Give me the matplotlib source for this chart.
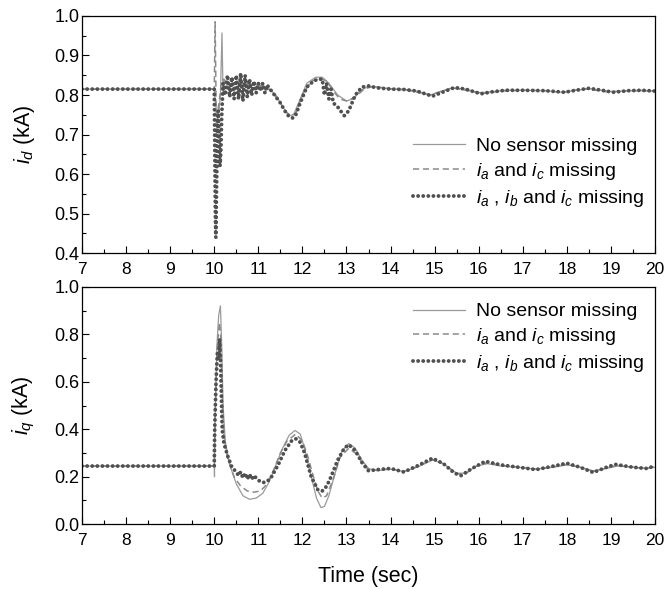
import numpy as np
import matplotlib.pyplot as plt
from matplotlib.ticker import MultipleLocator

plt.rcParams['font.family'] = ['Liberation Sans', 'DejaVu Sans']
plt.rcParams['mathtext.fontset'] = 'custom'
plt.rcParams['mathtext.rm'] = 'Liberation Sans'
plt.rcParams['mathtext.it'] = 'Liberation Sans:italic'

# i_d (kA) - top panel
t_d_none = [7.0, 10.0, 10.03, 10.06, 10.1, 10.14, 10.175, 10.2, 10.23, 10.3, 10.4, 10.6,
            10.8, 11.0, 11.2, 11.4, 11.55, 11.7, 11.8, 11.95, 12.1, 12.3, 12.45, 12.6,
            12.8, 13.0, 13.15, 13.3, 13.5, 13.7, 14.0, 14.3, 14.6, 14.9, 15.1, 15.4,
            15.7, 16.0, 16.3, 16.6, 17.0, 17.5, 17.9, 18.2, 18.5, 18.8, 19.05, 19.4,
            19.7, 20.0]
id_none = [0.815, 0.815, 0.78, 0.745, 0.75, 0.80, 0.957, 0.80, 0.84, 0.825, 0.83, 0.832,
           0.828, 0.825, 0.82, 0.80, 0.77, 0.748, 0.75, 0.79, 0.83, 0.845, 0.845, 0.83,
           0.80, 0.785, 0.79, 0.81, 0.822, 0.82, 0.815, 0.815, 0.81, 0.80, 0.808, 0.818,
           0.815, 0.806, 0.808, 0.812, 0.812, 0.811, 0.807, 0.812, 0.816, 0.812, 0.808,
           0.811, 0.812, 0.81]

t_d_ac = [7.0, 10.0, 10.02, 10.05, 10.08, 10.12, 10.16, 10.2, 10.3, 10.5, 10.7, 10.9,
          11.1, 11.3, 11.5, 11.65, 11.75, 11.85, 12.0, 12.2, 12.4, 12.55, 12.7, 12.85,
          13.0, 13.2, 13.4, 13.6, 14.0, 14.4, 14.9, 15.4, 15.9, 16.1, 16.5, 17.0, 17.5,
          17.9, 18.4, 18.9, 19.4, 20.0]
id_ac = [0.815, 0.815, 0.985, 0.70, 0.76, 0.79, 0.83, 0.84, 0.82, 0.83, 0.826, 0.824,
         0.822, 0.81, 0.78, 0.755, 0.748, 0.755, 0.80, 0.835, 0.842, 0.835, 0.81, 0.79,
         0.785, 0.795, 0.815, 0.822, 0.816, 0.812, 0.80, 0.818, 0.808, 0.804, 0.81,
         0.812, 0.811, 0.807, 0.816, 0.808, 0.811, 0.81]

t_d_abc = [7.0, 10.0, 10.01, 10.025, 10.035, 10.05, 10.07, 10.09, 10.11, 10.13, 10.15,
           10.17, 10.2, 10.25, 10.3, 10.35, 10.4, 10.45, 10.5, 10.55, 10.6, 10.65, 10.7,
           10.75, 10.8, 10.85, 10.9, 10.95, 11.0, 11.05, 11.1, 11.15, 11.2, 11.3, 11.4,
           11.5, 11.6, 11.7, 11.78, 11.85, 11.95, 12.1, 12.25, 12.35, 12.45, 12.5, 12.55,
           12.6, 12.65, 12.7, 12.8, 12.9, 12.95, 13.05, 13.2, 13.35, 13.5, 13.7, 14.0,
           14.3, 14.6, 14.95, 15.2, 15.45, 15.7, 16.05, 16.3, 16.6, 17.0, 17.5, 17.95,
           18.2, 18.5, 18.8, 19.05, 19.4, 19.7, 20.0]
id_abc = [0.815, 0.815, 0.70, 0.50, 0.44, 0.55, 0.70, 0.76, 0.68, 0.62, 0.66, 0.75, 0.83,
          0.80, 0.85, 0.795, 0.845, 0.79, 0.85, 0.79, 0.855, 0.785, 0.85, 0.795, 0.84,
          0.80, 0.835, 0.805, 0.83, 0.81, 0.83, 0.805, 0.825, 0.81, 0.795, 0.78, 0.76,
          0.745, 0.742, 0.75, 0.78, 0.82, 0.835, 0.84, 0.84, 0.80, 0.83, 0.79, 0.815,
          0.78, 0.77, 0.755, 0.748, 0.76, 0.80, 0.82, 0.823, 0.818, 0.815, 0.814, 0.81,
          0.797, 0.808, 0.819, 0.815, 0.803, 0.808, 0.812, 0.812, 0.811, 0.807, 0.812,
          0.817, 0.812, 0.807, 0.811, 0.812, 0.81]

# i_q (kA) - bottom panel
t_q_none = [7.0, 10.0, 10.005, 10.02, 10.06, 10.1, 10.14, 10.17, 10.2, 10.25, 10.35, 10.5,
            10.65, 10.8, 10.95, 11.1, 11.25, 11.4, 11.55, 11.7, 11.83, 11.95, 12.05, 12.2,
            12.32, 12.42, 12.5, 12.6, 12.75, 12.9, 13.05, 13.2, 13.35, 13.5, 13.7, 14.0,
            14.3, 14.6, 14.95, 15.2, 15.5, 15.7, 15.95, 16.2, 16.5, 16.9, 17.3, 17.7, 18.0,
            18.3, 18.6, 18.9, 19.15, 19.5, 19.8, 20.0]
iq_none = [0.245, 0.245, 0.20, 0.45, 0.75, 0.88, 0.92, 0.75, 0.50, 0.35, 0.25, 0.17,
           0.12, 0.105, 0.11, 0.13, 0.18, 0.25, 0.32, 0.375, 0.395, 0.38, 0.32, 0.20,
           0.11, 0.07, 0.075, 0.12, 0.22, 0.31, 0.34, 0.32, 0.27, 0.235, 0.225, 0.232,
           0.222, 0.24, 0.27, 0.255, 0.215, 0.215, 0.245, 0.255, 0.245, 0.24, 0.232, 0.24,
           0.25, 0.24, 0.225, 0.235, 0.245, 0.24, 0.235, 0.24]

t_q_ac = [7.0, 10.0, 10.02, 10.06, 10.1, 10.12, 10.15, 10.18, 10.22, 10.3, 10.45, 10.6,
          10.75, 10.9, 11.05, 11.2, 11.35, 11.5, 11.65, 11.85, 12.0, 12.1, 12.25, 12.35,
          12.45, 12.55, 12.7, 12.85, 13.05, 13.2, 13.35, 13.5, 13.7, 14.0, 14.3, 14.6,
          14.95, 15.2, 15.5, 15.7, 15.95, 16.2, 16.5, 16.9, 17.3, 17.7, 18.0, 18.3, 18.6,
          18.9, 19.15, 19.5, 19.8, 20.0]
iq_ac = [0.245, 0.245, 0.45, 0.72, 0.82, 0.85, 0.78, 0.55, 0.37, 0.28, 0.20, 0.16,
         0.14, 0.135, 0.14, 0.17, 0.23, 0.30, 0.35, 0.38, 0.35, 0.30, 0.20, 0.14,
         0.11, 0.12, 0.19, 0.28, 0.32, 0.30, 0.26, 0.23, 0.228, 0.234, 0.222, 0.242,
         0.272, 0.255, 0.212, 0.212, 0.245, 0.26, 0.248, 0.24, 0.232, 0.242, 0.252, 0.24,
         0.222, 0.237, 0.248, 0.24, 0.235, 0.242]

t_q_abc = [7.0, 10.0, 10.01, 10.04, 10.07, 10.1, 10.12, 10.14, 10.16, 10.18, 10.22, 10.3,
           10.4, 10.5, 10.55, 10.6, 10.65, 10.7, 10.75, 10.8, 10.85, 10.9, 11.0, 11.1,
           11.2, 11.3, 11.45, 11.6, 11.75, 11.85, 11.95, 12.05, 12.2, 12.35, 12.45, 12.55,
           12.65, 12.8, 12.95, 13.05, 13.2, 13.35, 13.5, 13.7, 14.0, 14.3, 14.6, 14.95,
           15.2, 15.45, 15.6, 15.85, 16.15, 16.5, 16.9, 17.3, 17.7, 18.0, 18.3, 18.6, 18.9,
           19.1, 19.5, 19.8, 20.0]
iq_abc = [0.245, 0.245, 0.40, 0.60, 0.72, 0.70, 0.78, 0.70, 0.55, 0.40, 0.34, 0.29,
          0.24, 0.22, 0.205, 0.22, 0.195, 0.215, 0.19, 0.21, 0.19, 0.205, 0.185, 0.175,
          0.18, 0.20, 0.25, 0.31, 0.35, 0.36, 0.345, 0.30, 0.20, 0.145, 0.14, 0.16,
          0.20, 0.27, 0.32, 0.335, 0.31, 0.26, 0.225, 0.23, 0.235, 0.22, 0.245, 0.278,
          0.255, 0.215, 0.205, 0.235, 0.265, 0.25, 0.24, 0.23, 0.245, 0.257, 0.24, 0.218,
          0.24, 0.252, 0.24, 0.235, 0.245]

labels = ['No sensor missing', '$i_a$ and $i_c$ missing', '$i_a$ , $i_b$ and $i_c$ missing']

fig = plt.figure(figsize=(6.67, 5.89), dpi=100)
ax1 = fig.add_axes([0.123, 0.570, 0.859, 0.403])
ax2 = fig.add_axes([0.123, 0.110, 0.859, 0.403])


def draw(ax, t1, y1, t2, y2, t3, y3):
    ax.plot(t1, y1, color='#9a9a9a', lw=0.9, label=labels[0])
    ax.plot(t2, y2, color='#8a8a8a', lw=1.1, ls=(0, (4, 2.5)), label=labels[1])
    ax.plot(t3, y3, color='#505050', lw=2.8, ls=(0, (0.01, 1.3)),
            dash_capstyle='round', label=labels[2])


draw(ax1, t_d_none, id_none, t_d_ac, id_ac, t_d_abc, id_abc)
draw(ax2, t_q_none, iq_none, t_q_ac, iq_ac, t_q_abc, iq_abc)

ax1.set_ylim(0.4, 1.0)
ax1.yaxis.set_major_locator(MultipleLocator(0.1))
ax1.yaxis.set_minor_locator(MultipleLocator(0.05))
ax1.set_ylabel('$i_d$ (kA)', fontsize=15.5, labelpad=12)

ax2.set_ylim(0.0, 1.0)
ax2.yaxis.set_major_locator(MultipleLocator(0.2))
ax2.yaxis.set_minor_locator(MultipleLocator(0.1))
ax2.set_ylabel('$i_q$ (kA)', fontsize=15.5, labelpad=12)
ax2.set_xlabel('Time (sec)', fontsize=15.5, labelpad=13)

for ax in (ax1, ax2):
    ax.set_xlim(7, 20)
    ax.xaxis.set_major_locator(MultipleLocator(1))
    ax.xaxis.set_minor_locator(MultipleLocator(0.5))
    ax.tick_params(which='both', direction='in', top=False, right=False)
    ax.tick_params(axis='x', labelsize=12.5, pad=6)
    ax.tick_params(axis='y', labelsize=13, pad=2)
    ax.tick_params(which='major', length=5, width=0.8)
    ax.tick_params(which='minor', length=3, width=0.8)
    ax.yaxis.set_major_formatter(plt.FormatStrFormatter('%.1f'))
    for s in ax.spines.values():
        s.set_linewidth(0.9)

leg_kw = dict(frameon=False, fontsize=14, handlelength=2.7, handletextpad=0.55,
              labelspacing=0.3, borderpad=0, borderaxespad=0)
ax1.legend(loc='center right', bbox_to_anchor=(0.982, 0.338), **leg_kw)
ax2.legend(loc='center right', bbox_to_anchor=(0.982, 0.783), **leg_kw)

fig.savefig('out.png', dpi=100)
